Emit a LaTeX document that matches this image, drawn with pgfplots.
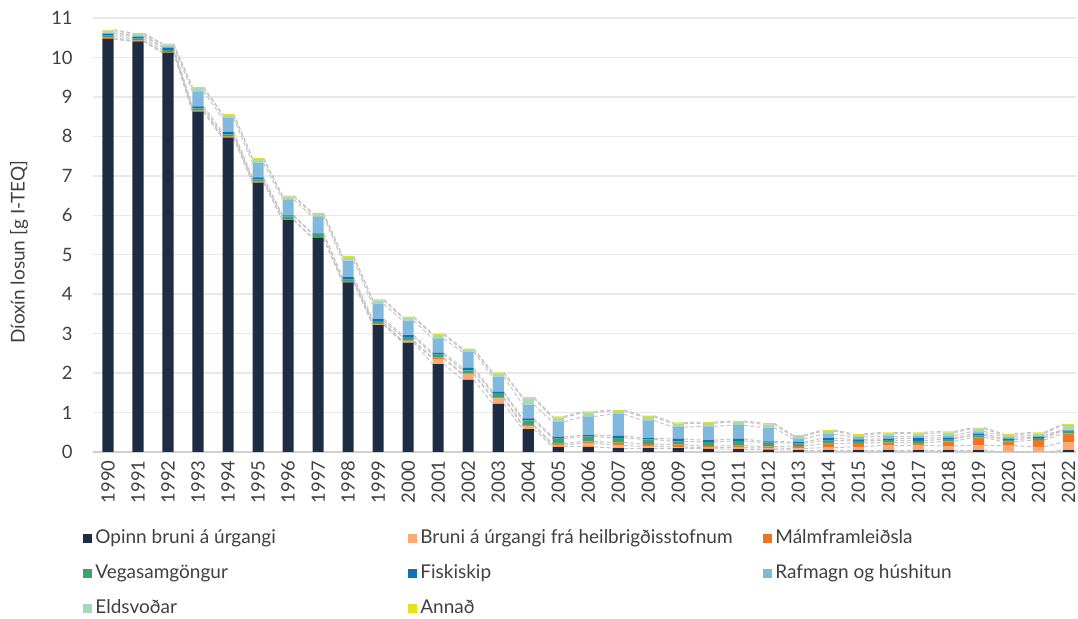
\documentclass[border=0pt]{standalone}
\usepackage{pgfplots}
\usepackage{pgfplotstable}
\pgfplotsset{compat=1.18}
\usepackage{fontspec}
\setmainfont{Lato}
\definecolor{cOp}{HTML}{1F2D44}
\definecolor{cBr}{HTML}{FBAA76}
\definecolor{cMl}{HTML}{EE7623}
\definecolor{cVg}{HTML}{3BA36B}
\definecolor{cFs}{HTML}{1072B5}
\definecolor{cRf}{HTML}{80B9DD}
\definecolor{cEl}{HTML}{A5D9BC}
\definecolor{cAn}{HTML}{E6E21A}
\definecolor{cGrid}{HTML}{E8E8E8}
\definecolor{cAxis}{HTML}{D0D0D0}
\definecolor{cSer}{HTML}{C4C4C4}
\definecolor{cTxt}{HTML}{404040}

\pgfplotstableread{
yr   op    br   ml   vg   fs   rf   el   an
1990 10.47 0    0.03 0.05 0.05 0.03 0.05 0.02
1991 10.41 0    0.02 0.05 0.05 0.03 0.04 0.02
1992 10.12 0    0.02 0.05 0.06 0.03 0.05 0.02
1993 8.62  0    0.03 0.06 0.05 0.38 0.08 0.03
1994 7.96  0    0.04 0.05 0.06 0.35 0.08 0.03
1995 6.83  0    0.02 0.06 0.05 0.36 0.10 0.03
1996 5.88  0    0.01 0.08 0.03 0.40 0.07 0.03
1997 5.42  0    0.00 0.10 0.02 0.42 0.07 0.03
1998 4.30  0    0.03 0.04 0.06 0.42 0.09 0.03
1999 3.22  0.02 0.03 0.05 0.05 0.38 0.09 0.03
2000 2.77  0.03 0.02 0.09 0.05 0.37 0.07 0.03
2001 2.23  0.13 0.03 0.08 0.04 0.36 0.10 0.03
2002 1.83  0.13 0.03 0.08 0.06 0.40 0.06 0.03
2003 1.22  0.14 0.03 0.10 0.04 0.38 0.08 0.03
2004 0.58  0.08 0.03 0.11 0.05 0.35 0.16 0.03
2005 0.13  0.04 0.04 0.13 0.04 0.38 0.11 0.03
2006 0.13  0.10 0.04 0.12 0.04 0.47 0.10 0.03
2007 0.10  0.07 0.07 0.12 0.05 0.55 0.08 0.03
2008 0.10  0.04 0.06 0.12 0.03 0.45 0.09 0.03
2009 0.10  0.03 0.06 0.08 0.06 0.30 0.09 0.03
2010 0.08  0.03 0.04 0.10 0.05 0.35 0.08 0.03
2011 0.07  0.04 0.05 0.12 0.05 0.35 0.08 0.03
2012 0.06  0.04 0.04 0.10 0.03 0.35 0.08 0.03
2013 0.05  0.04 0.06 0.07 0.03 0.08 0.07 0.03
2014 0.05  0.06 0.10 0.08 0.06 0.10 0.08 0.03
2015 0.05  0.08 0.10 0.05 0.04 0.06 0.05 0.03
2016 0.05  0.12 0.07 0.06 0.04 0.06 0.07 0.03
2017 0.05  0.12 0.06 0.05 0.07 0.05 0.07 0.03
2018 0.05  0.10 0.12 0.06 0.03 0.06 0.07 0.03
2019 0.05  0.12 0.20 0.05 0.04 0.06 0.07 0.03
2020 0.00  0.16 0.10 0.05 0.03 0.05 0.04 0.03
2021 0.00  0.13 0.17 0.05 0.03 0.04 0.05 0.03
2022 0.05  0.20 0.22 0.07 0.01 0.02 0.11 0.03
}\data
% cumulative tops of each layer
\pgfplotstablecreatecol[expr={\thisrow{op}}]{c1}{\data}
\pgfplotstablecreatecol[expr={\thisrow{c1}+\thisrow{br}}]{c2}{\data}
\pgfplotstablecreatecol[expr={\thisrow{c2}+\thisrow{ml}}]{c3}{\data}
\pgfplotstablecreatecol[expr={\thisrow{c3}+\thisrow{vg}}]{c4}{\data}
\pgfplotstablecreatecol[expr={\thisrow{c4}+\thisrow{fs}}]{c5}{\data}
\pgfplotstablecreatecol[expr={\thisrow{c5}+\thisrow{rf}}]{c6}{\data}
\pgfplotstablecreatecol[expr={\thisrow{c6}+\thisrow{el}}]{c7}{\data}
\pgfplotstablecreatecol[expr={\thisrow{c7}+\thisrow{an}}]{c8}{\data}
% change to the next year, for the series lines
\pgfplotstablecreatecol[expr={\nextrow{c1}-\thisrow{c1}}]{d1}{\data}
\pgfplotstablecreatecol[expr={\nextrow{c2}-\thisrow{c2}}]{d2}{\data}
\pgfplotstablecreatecol[expr={\nextrow{c3}-\thisrow{c3}}]{d3}{\data}
\pgfplotstablecreatecol[expr={\nextrow{c4}-\thisrow{c4}}]{d4}{\data}
\pgfplotstablecreatecol[expr={\nextrow{c5}-\thisrow{c5}}]{d5}{\data}
\pgfplotstablecreatecol[expr={\nextrow{c6}-\thisrow{c6}}]{d6}{\data}
\pgfplotstablecreatecol[expr={\nextrow{c7}-\thisrow{c7}}]{d7}{\data}
\pgfplotstablecreatecol[expr={\nextrow{c8}-\thisrow{c8}}]{d8}{\data}

\pgfplotsset{
  base/.style={scale only axis, width=491.5pt, height=217pt,
    xmin=-0.5, xmax=32.25, ymin=0, ymax=11},
  serline/.style={draw=cSer, line width=0.5pt, dash pattern=on 2pt off 1.2pt, no markers,
    quiver={u=0.63, v=\thisrow{#1}}, restrict x to domain=0:31.5},
}
\newcommand{\hw}{0.185}

\begin{document}
\begin{tikzpicture}
\begin{axis}[base,
  font=\fontsize{9.5}{11}\selectfont,
  axis x line*=bottom, axis y line*=left,
  x axis line style={draw=cAxis, line width=1pt},
  y axis line style={draw=none},
  major tick length=0pt,
  ymajorgrids, grid style={draw=cGrid, line width=0.75pt},
  ytick={0,...,11},
  xtick={0,...,32},
  xticklabels from table={\data}{yr},
  /pgf/number format/assume math mode=true,
  tick label style={text=cTxt, font=\fontsize{9.2}{11}\selectfont},
  xticklabel style={rotate=90, anchor=east, inner sep=0pt},
  xticklabel shift=4pt,
  yticklabel style={anchor=east, inner sep=0pt, xshift=-10pt},
  ylabel={Díoxín losun [g I-TEQ]},
  ylabel style={at={(axis description cs:-0.0753,0.46)}, anchor=center, text=cTxt,
    font=\fontsize{9.5}{11}\selectfont},
]
\addplot[serline=d1] table[x expr=\coordindex+\hw, y=c1] {\data};
\addplot[serline=d2] table[x expr=\coordindex+\hw, y=c2] {\data};
\addplot[serline=d3] table[x expr=\coordindex+\hw, y=c3] {\data};
\addplot[serline=d4] table[x expr=\coordindex+\hw, y=c4] {\data};
\addplot[serline=d5] table[x expr=\coordindex+\hw, y=c5] {\data};
\addplot[serline=d6] table[x expr=\coordindex+\hw, y=c6] {\data};
\addplot[serline=d7] table[x expr=\coordindex+\hw, y=c7] {\data};
\addplot[serline=d8] table[x expr=\coordindex+\hw, y=c8] {\data};
\end{axis}
\begin{axis}[base, hide axis,
  ybar stacked, bar width=0.37,
  legend columns=3,
  legend cell align=left,
  legend style={at={(axis description cs:-0.0102,-0.1797)}, anchor=north west,
    draw=none, fill=none, inner sep=0pt, row sep=9pt,
    font=\fontsize{9.5}{11}\selectfont, text=cTxt,
    nodes={inner sep=0pt, text height=6.5pt, text depth=2pt},
    /tikz/every odd column/.append style={column sep=1.5pt}},
  legend image code/.code={\fill[#1] (0pt,-2.25pt) rectangle (4.5pt,2.25pt);},
]
\addplot[fill=cOp, draw=none] table[x expr=\coordindex, y=op] {\data};
\addlegendentry{\makebox[156.5pt][l]{Opinn bruni á úrgangi}}
\addplot[fill=cBr, draw=none] table[x expr=\coordindex, y=br] {\data};
\addlegendentry{\makebox[171.5pt][l]{Bruni á úrgangi frá heilbrigðisstofnum}}
\addplot[fill=cMl, draw=none] table[x expr=\coordindex, y=ml] {\data};
\addlegendentry{Málmframleiðsla}
\addplot[fill=cVg, draw=none] table[x expr=\coordindex, y=vg] {\data};
\addlegendentry{\makebox[156.5pt][l]{Vegasamgöngur}}
\addplot[fill=cFs, draw=none] table[x expr=\coordindex, y=fs] {\data};
\addlegendentry{\makebox[171.5pt][l]{Fiskiskip}}
\addplot[fill=cRf, draw=none] table[x expr=\coordindex, y=rf] {\data};
\addlegendentry{Rafmagn og húshitun}
\addplot[fill=cEl, draw=none] table[x expr=\coordindex, y=el] {\data};
\addlegendentry{\makebox[156.5pt][l]{Eldsvoðar}}
\addplot[fill=cAn, draw=none] table[x expr=\coordindex, y=an] {\data};
\addlegendentry{\makebox[171.5pt][l]{Annað}}
\end{axis}
\pgfresetboundingbox
\path[use as bounding box] (-46.5pt,-83.5pt) rectangle (492.5pt,226pt);
\end{tikzpicture}
\end{document}
